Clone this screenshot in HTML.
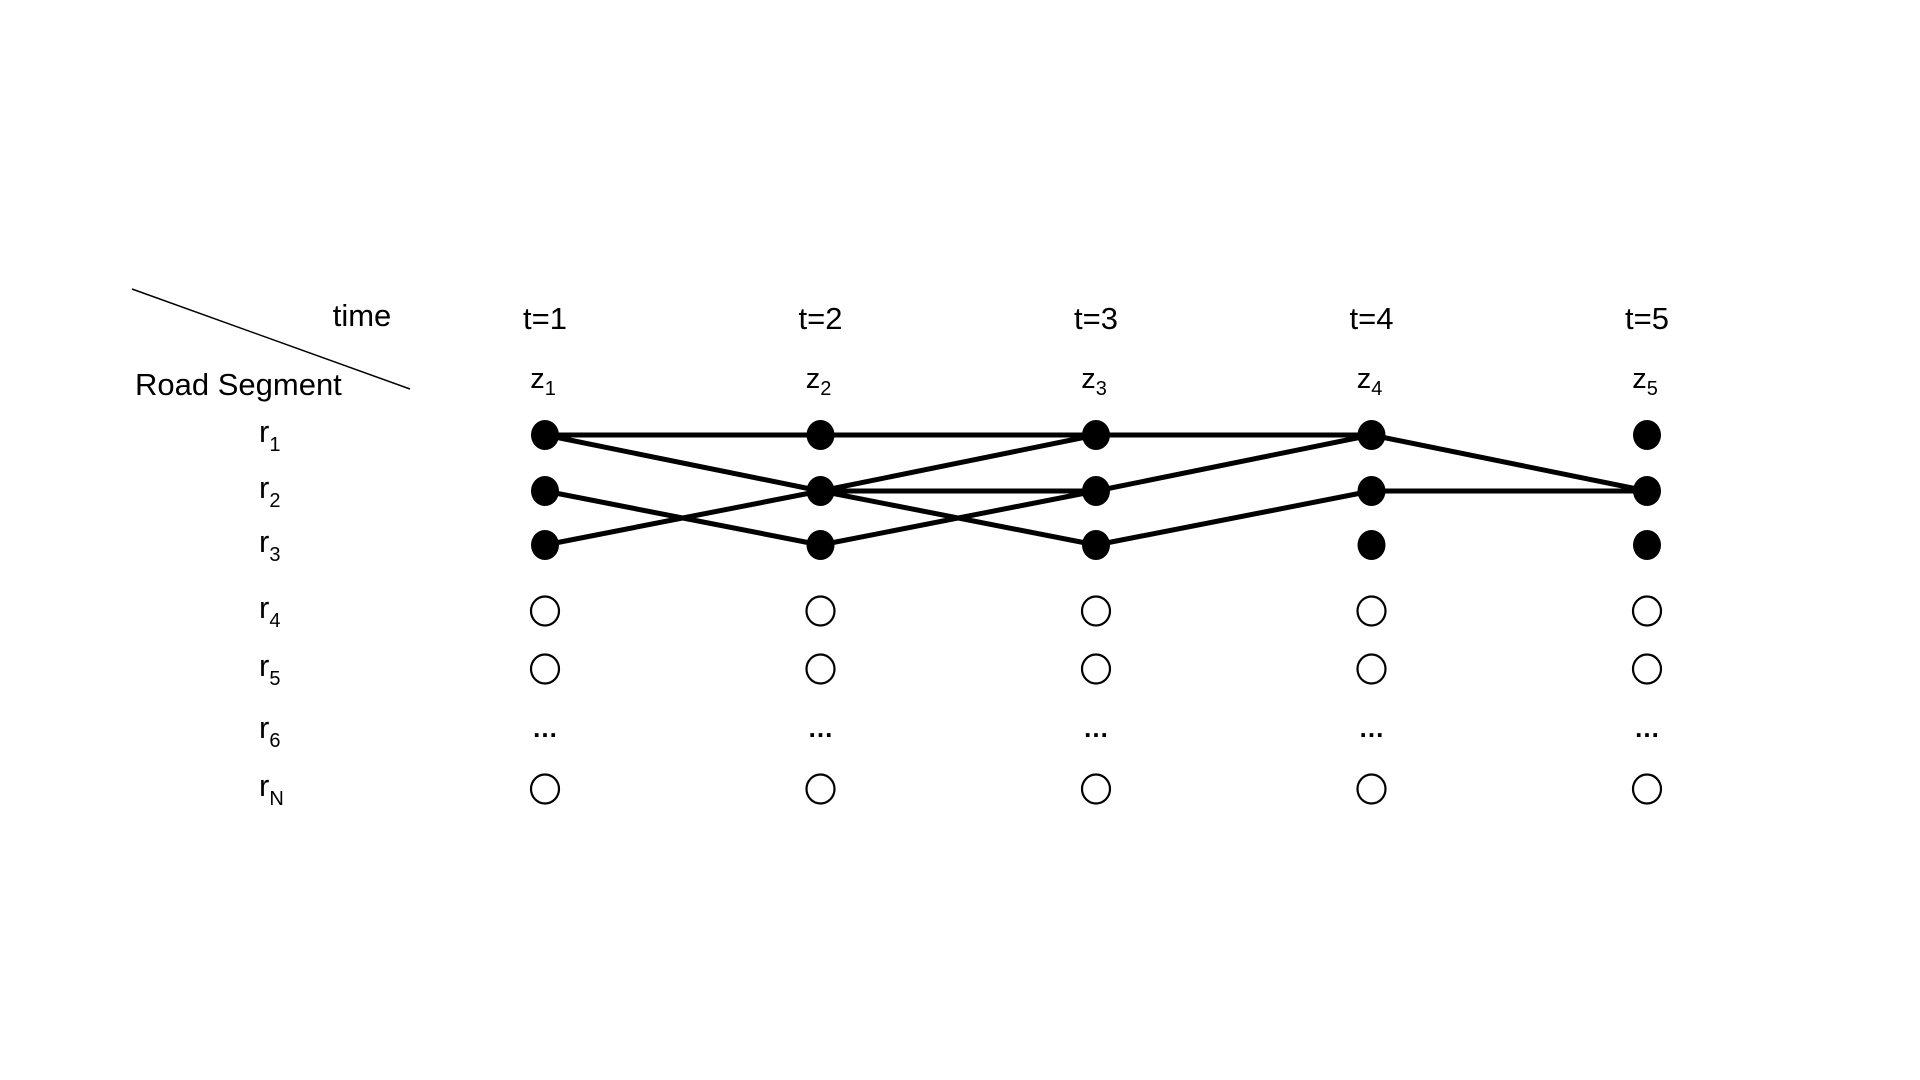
<!DOCTYPE html>
<html><head><meta charset="utf-8"><style>
html,body{margin:0;padding:0;background:#fff;width:1920px;height:1080px;overflow:hidden}
svg text{font-family:"Liberation Sans",sans-serif;fill:#000}
</style></head><body>
<svg id="chart" width="1920" height="1080" viewBox="0 0 1920 1080">
<line x1="132" y1="289" x2="410" y2="389" stroke="#000" stroke-width="1.5"/>
<text x="362" y="326" font-size="31" text-anchor="middle">time</text>
<text x="135" y="395" font-size="31">Road Segment</text>
<g id="g"></g>
</svg>
<script>
const times=["t=1","t=2","t=3","t=4","t=5"];
const zLabels=["1","2","3","4","5"];
const rowLabels=["1","2","3","4","5","6","N"];
// row kinds per column: "f" filled, "o" open, "d" dots
const rowKinds=["f","f","f","o","o","d","o"];
// edges: [fromTime, fromRow] -> [toTime, toRow]
const edgeFrom=[[0,0],[0,0],[0,1],[0,2],[1,0],[1,1],[1,1],[1,2],[1,1],[2,0],[2,1],[2,2],[3,0],[3,1]];
const edgeTo=[[1,0],[1,1],[1,2],[1,1],[2,0],[2,0],[2,1],[2,1],[2,2],[3,0],[3,0],[3,1],[4,1],[4,1]];
const colX=t=>545+t*275.5;
const rowYs=[435,491,545,611,669,731,789];
const rowY=r=>rowYs[r];
const ns="http://www.w3.org/2000/svg";
const g=document.getElementById('g');
function mk(tag,attrs){const e=document.createElementNS(ns,tag);for(const k in attrs)e.setAttribute(k,attrs[k]);g.appendChild(e);return e;}
times.forEach((t,i)=>{
  const e=mk('text',{x:colX(i),y:329,'font-size':31,'text-anchor':'middle'});e.textContent=t;
  
  
  const z=mk('text',{x:colX(i)-2,y:388,'font-size':29,'text-anchor':'middle'});
  z.innerHTML='z<tspan font-size="20" dy="7">'+zLabels[i]+'</tspan>';
  
  
});
rowLabels.forEach((r,i)=>{
  const e=mk('text',{x:259,y:rowY(i)+7,'font-size':31});
  e.innerHTML='r<tspan font-size="20" dy="9">'+r+'</tspan>';
  
  
});
edgeFrom.forEach((f,i)=>{
  const t=edgeTo[i];
  const l=mk('line',{x1:colX(f[0]),y1:rowY(f[1]),x2:colX(t[0]),y2:rowY(t[1]),stroke:'#000','stroke-width':5});
  
  
});
times.forEach((t,i)=>{
  rowKinds.forEach((k,j)=>{
    let e;
    if(k==='f'){e=mk('ellipse',{cx:colX(i),cy:rowY(j),rx:14,ry:15,fill:'#000'});
      }
    else if(k==='o'){e=mk('ellipse',{cx:colX(i),cy:rowY(j),rx:14,ry:14.5,fill:'#fff',stroke:'#000','stroke-width':2.2});
      }
    else {e=mk('text',{x:colX(i),y:rowY(j)+6,'font-size':26,'font-weight':'bold','text-anchor':'middle'});e.textContent='…';
      }
    
  });
});
</script>
</body></html>
